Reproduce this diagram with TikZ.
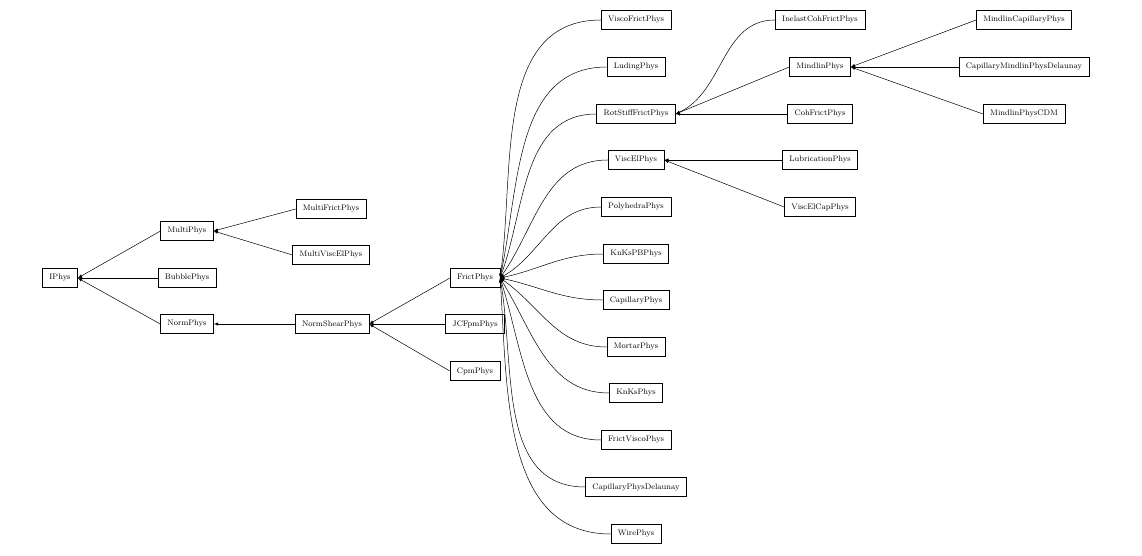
\documentclass[tikz,border=0pt]{standalone}
\usetikzlibrary{arrows}
\tikzstyle{cls}=[rectangle,draw=black,font=\footnotesize,minimum height=19pt,inner xsep=7pt]
\tikzstyle{edge}=[-latex,draw=black,line width=0.5pt]
\begin{document}
\begin{tikzpicture}[x=1pt,y=-1pt]
	\useasboundingbox (0,0) rectangle (1142,556);
	% classes
	\node [style=cls] (iphys) at (60, 278) {IPhys};
	\node [style=cls] (multi) at (187, 231) {MultiPhys};
	\node [style=cls] (bubble) at (187, 278) {BubblePhys};
	\node [style=cls] (norm) at (187, 324) {NormPhys};
	\node [style=cls] (multifrict) at (331, 209) {MultiFrictPhys};
	\node [style=cls] (multivisc) at (331, 255) {MultiViscElPhys};
	\node [style=cls] (normshear) at (332, 324) {NormShearPhys};
	\node [style=cls] (frict) at (475, 278) {FrictPhys};
	\node [style=cls] (jcfpm) at (475, 324) {JCFpmPhys};
	\node [style=cls] (cpm) at (475, 371) {CpmPhys};
	\node [style=cls] (viscofrict) at (636, 20) {ViscoFrictPhys};
	\node [style=cls] (luding) at (636, 67) {LudingPhys};
	\node [style=cls] (rotstiff) at (636, 114) {RotStiffFrictPhys};
	\node [style=cls] (viscel) at (636, 160) {ViscElPhys};
	\node [style=cls] (polyhedra) at (636, 207) {PolyhedraPhys};
	\node [style=cls] (knkspb) at (636, 254) {KnKsPBPhys};
	\node [style=cls] (capillary) at (636, 300) {CapillaryPhys};
	\node [style=cls] (mortar) at (636, 347) {MortarPhys};
	\node [style=cls] (knks) at (636, 393) {KnKsPhys};
	\node [style=cls] (frictvisco) at (636, 440) {FrictViscoPhys};
	\node [style=cls] (capdel) at (636, 487) {CapillaryPhysDelaunay};
	\node [style=cls] (wire) at (636, 534) {WirePhys};
	\node [style=cls] (inelast) at (820, 20) {InelastCohFrictPhys};
	\node [style=cls] (mindlin) at (820, 67) {MindlinPhys};
	\node [style=cls] (cohfrict) at (820, 114) {CohFrictPhys};
	\node [style=cls] (lubrication) at (820, 160) {LubricationPhys};
	\node [style=cls] (viscelcap) at (820, 207) {ViscElCapPhys};
	\node [style=cls] (mindlincap) at (1024, 20) {MindlinCapillaryPhys};
	\node [style=cls] (capmindlin) at (1024, 67) {CapillaryMindlinPhysDelaunay};
	\node [style=cls] (mindlincdm) at (1024, 114) {MindlinPhysCDM};
	% straight inheritance arrows
	\foreach \c/\p in {multi/iphys, bubble/iphys, norm/iphys, multifrict/multi, multivisc/multi,
		normshear/norm, frict/normshear, jcfpm/normshear, cpm/normshear, cohfrict/rotstiff,
		mindlin/rotstiff, lubrication/viscel, viscelcap/viscel, mindlincap/mindlin,
		capmindlin/mindlin, mindlincdm/mindlin}
		\draw [style=edge] (\c.west) -- (\p.east);
	% curved inheritance arrows
	\foreach \c/\a in {viscofrict/82, luding/78, rotstiff/70, viscel/55, polyhedra/30, knkspb/12,
		capillary/-12, mortar/-35, knks/-58, frictvisco/-72, capdel/-80, wire/-86}
		\draw [style=edge] (\c.west) to[out=180, in=\a] (frict.east);
	\draw [style=edge] (inelast.west) to[out=180, in=25] (rotstiff.east);
\end{tikzpicture}
\end{document}
